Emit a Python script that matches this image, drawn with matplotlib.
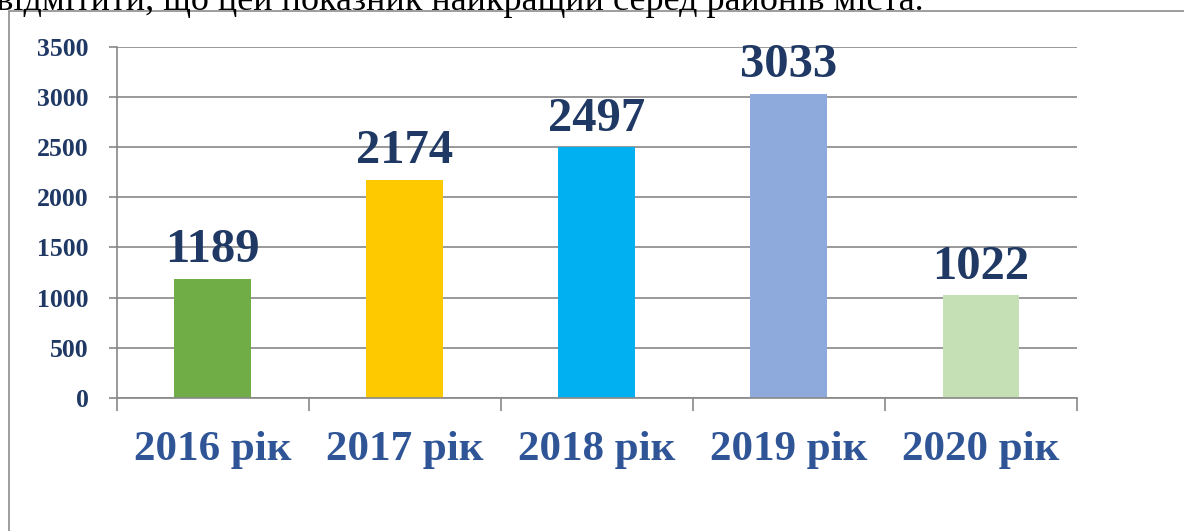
import matplotlib.pyplot as plt
from matplotlib.patches import Rectangle

# дані діаграми
years = ["2016 рік", "2017 рік", "2018 рік", "2019 рік", "2020 рік"]
values = [1189, 2174, 2497, 3033, 1022]
colors = ["#70AD47", "#FFC900", "#00B0F0", "#8EA9DB", "#C5E0B4"]
y_ticks = [0, 500, 1000, 1500, 2000, 2500, 3000, 3500]

plt.rcParams["font.family"] = ["Liberation Serif", "DejaVu Serif"]

fig = plt.figure(figsize=(11.84, 5.31), dpi=100)
ax = fig.add_axes([0.0984, 0.2505, 0.8112, 0.6615])

navy = "#1F3864"
blue = "#2F5597"
grid_c = "#888888"

x = range(len(years))
ax.bar(x, values, width=0.4, color=colors, zorder=3)

# підписи значень над стовпцями
for i, v in enumerate(values):
    ax.annotate(str(v), (i, v), xytext=(0, 12), textcoords="offset points",
                ha="center", va="baseline", fontsize=35, fontweight="bold",
                color=navy, zorder=4)

ax.set_xlim(-0.5, len(years) - 0.5)
ax.set_ylim(0, 3500)
ax.set_yticks(y_ticks)
ax.set_yticklabels([str(t) for t in y_ticks], fontsize=18.5,
                   fontweight="bold", color=navy)
ax.set_xticks(list(x))
ax.set_xticklabels(years, fontsize=31, fontweight="bold", color=blue)
ax.set_xticks([i - 0.5 for i in range(len(years) + 1)], minor=True)

ax.tick_params(axis="x", which="major", length=0, pad=24)
ax.tick_params(axis="x", which="minor", length=9, width=1.2, color=grid_c)
ax.tick_params(axis="y", length=6, width=1.2, color=grid_c, pad=14)

ax.yaxis.grid(True, color=grid_c, linewidth=1.2, zorder=0)
for s in ["top", "right"]:
    ax.spines[s].set_visible(False)
for s in ["left", "bottom"]:
    ax.spines[s].set_color(grid_c)
    ax.spines[s].set_linewidth(1.2)
    ax.spines[s].set_zorder(5)

# рамка навколо діаграми
fig.add_artist(Rectangle((8.5 / 1184, -0.1), 1.2, 1 - 10.5 / 531 + 0.1,
                         transform=fig.transFigure, fill=False,
                         edgecolor="#8C8C8C", linewidth=1.2))

# обрізаний текст над діаграмою (у оригіналі видно лише низ рядка)
fig.text(924 / 1184, 1 - 10.5 / 531,
         "можна відмітити, що цей показник найкращий серед районів міста.",
         ha="right", va="baseline", fontsize=26, color="black")

fig.savefig("out.png", dpi=100)
